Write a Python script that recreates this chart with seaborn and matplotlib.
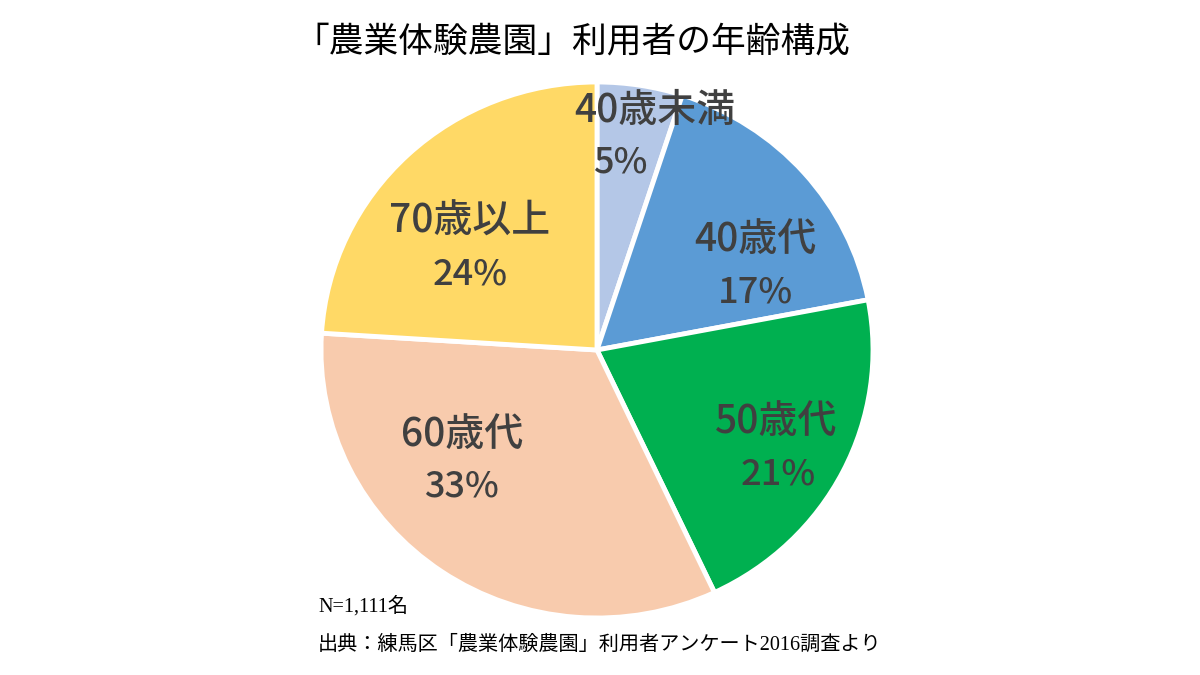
import matplotlib
matplotlib.use("Agg")
import matplotlib.pyplot as plt
import seaborn as sns

# data
groups = ['40歳未満', '40歳代', '50歳代', '60歳代', '70歳以上']
shares = [5, 17, 21, 33, 24]
pct_labels = ['5%', '17%', '21%', '33%', '24%']
colors = ['#b4c7e7', '#5b9bd5', '#00b050', '#f8cbad', '#ffd966']

title = '「農業体験農園」利用者の年齢構成'
note_n = 'N=1,111名'
note_src = '出典：練馬区「農業体験農園」利用者アンケート2016調査より'

sns.set_theme(style="white")
plt.rcParams['font.family'] = ['Noto Sans CJK JP', 'DejaVu Sans']

fig = plt.figure(figsize=(12, 6.75), dpi=100)
fig.patch.set_facecolor('white')

# pie centred at about (597, 350) px; the source is slightly wider than tall
rx_px, ry_px = 276, 268
cx, cy = 597, 350
ax = fig.add_axes([(cx - rx_px) / 1200, (675 - cy - ry_px) / 675,
                   2 * rx_px / 1200, 2 * ry_px / 675])
wedges, _ = ax.pie(shares, colors=colors, startangle=90, counterclock=False,
                   wedgeprops=dict(edgecolor='white', linewidth=3.5))
ax.set_xlim(-1, 1)
ax.set_ylim(-1, 1)
ax.set_aspect('auto')
ax.axis('off')

# label positions (name line, percent line) in pie units, as placed in the source
name_pos = [(0.21, 0.89), (0.572, 0.41), (0.648, -0.268), (-0.49, -0.317), (-0.46, 0.478)]
pct_pos = [(0.084, 0.70), (0.575, 0.216), (0.655, -0.463), (-0.49, -0.511), (-0.46, 0.28)]

txt_color = '#404040'
for g, p, (nx, ny), (px, py) in zip(groups, pct_labels, name_pos, pct_pos):
    ax.text(nx, ny, g, ha='center', va='center', fontsize=28, color=txt_color,
            fontweight='medium')
    ax.text(px, py, p, ha='center', va='center', fontsize=26, color=txt_color,
            fontweight='medium')

fig.text(572 / 1200, 1 - 42 / 675, title, ha='center', va='center',
         fontsize=25, color='black')
fig.text(318 / 1200, 1 - 606 / 675, note_n, ha='left', va='center',
         fontsize=14.5, color='black', family=['Liberation Serif', 'Noto Sans CJK JP'])
fig.text(318 / 1200, 1 - 645 / 675, note_src, ha='left', va='center',
         fontsize=14.5, color='black', family=['Liberation Serif', 'Noto Sans CJK JP'])

plt.savefig('out.png', dpi=100, facecolor='white')
